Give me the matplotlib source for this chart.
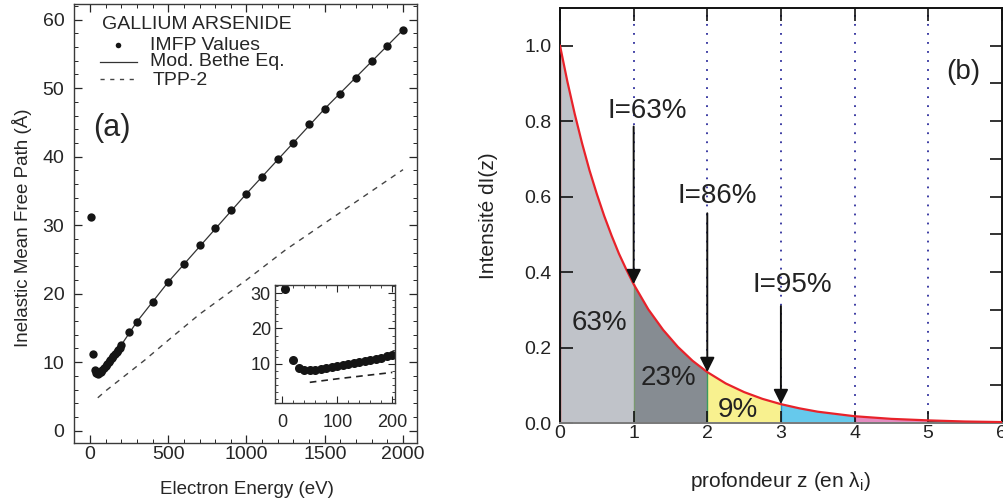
import matplotlib.pyplot as plt
from matplotlib.ticker import MultipleLocator

plt.rcParams['font.family'] = ['Liberation Sans', 'DejaVu Sans']
plt.rcParams['mathtext.fontset'] = 'custom'
plt.rcParams['mathtext.rm'] = 'Liberation Sans'
plt.rcParams['mathtext.it'] = 'Liberation Sans'

# ---- panel (a): GaAs inelastic mean free path ----
imfp_energy = [5, 20,
               30, 40, 50, 60, 70, 80, 90, 100, 110, 120, 130, 140, 150, 160, 170, 180, 190, 200,
               250, 300,
               400, 500, 600, 700, 800, 900, 1000, 1100, 1200, 1300, 1400, 1500, 1600, 1700,
               1800, 1900, 2000]
imfp_values = [31.2, 11.2,
               8.8, 8.4, 8.3, 8.4, 8.6, 8.9, 9.1, 9.4, 9.7, 10.0, 10.3, 10.6, 10.9, 11.2, 11.5,
               11.8, 12.1, 12.5,
               14.4, 15.9,
               18.8, 21.7, 24.3, 27.1, 29.6, 32.2, 34.6, 37.1, 39.6, 42.0, 44.7, 47.0, 49.2,
               51.5, 53.9, 56.2, 58.5]

bethe_energy = [30, 40, 50, 70, 100, 150, 200, 300, 500, 1000, 1500, 2000]
bethe_values = [8.8, 8.4, 8.3, 8.6, 9.4, 10.9, 12.5, 15.9, 21.7, 34.6, 47.0, 58.5]

tpp2_energy = [50, 100, 200, 350, 500, 700, 1000, 1250, 1500, 1750, 2000]
tpp2_values = [4.8, 5.8, 7.6, 10.3, 13.2, 17.0, 22.0, 26.4, 30.3, 34.2, 38.1]

# ---- panel (b): exponential attenuation ----
depth = [0, 0.1, 0.2, 0.3, 0.4, 0.5, 0.6, 0.7, 0.8, 0.9, 1, 1.2, 1.4, 1.6, 1.8, 2,
         2.25, 2.5, 2.75, 3, 3.25, 3.5, 3.75, 4, 4.5, 5, 5.5, 6]
intensity = [1.0, 0.905, 0.819, 0.741, 0.670, 0.607, 0.549, 0.497, 0.449, 0.407, 0.368,
             0.301, 0.247, 0.202, 0.165, 0.135, 0.105, 0.082, 0.064, 0.050, 0.039, 0.030,
             0.024, 0.018, 0.011, 0.007, 0.004, 0.0025]
band_edges = [0, 1, 2, 3, 4, 5, 6]
band_colors = ['#c0c3c9', '#868c92', '#f8f18f', '#66c9ec', '#e48cc0', '#45494a']
band_labels = ['63%', '23%', '9%']
cumul_depth = [1, 2, 3]
cumul_labels = ['I=63%', 'I=86%', 'I=95%']

ink = '#262626'
fig = plt.figure(figsize=(10.04, 5.03), dpi=100)

# ================= (a) =================
ax = fig.add_axes([0.0737, 0.1193, 0.3416, 0.873])
ax.plot(bethe_energy, bethe_values, color='#333333', lw=0.9)
ax.plot(tpp2_energy, tpp2_values, color='#444444', lw=1.0, ls=(0, (4, 4)))
ax.plot(imfp_energy, imfp_values, 'o', color='#151515', ms=6, mew=0)
ax.set_xlim(-102, 2089)
ax.set_ylim(-1.8, 62.3)
ax.xaxis.set_major_locator(MultipleLocator(500))
ax.xaxis.set_minor_locator(MultipleLocator(100))
ax.yaxis.set_major_locator(MultipleLocator(10))
ax.yaxis.set_minor_locator(MultipleLocator(2))
ax.tick_params(which='both', direction='in', top=True, right=True, colors=ink,
               labelsize=14, labelcolor=ink)
ax.tick_params(which='major', length=6, width=0.9)
ax.tick_params(which='minor', length=3, width=0.7)
ax.tick_params(axis='x', pad=2.5)
ax.tick_params(axis='y', pad=7)
for s in ax.spines.values():
    s.set_color('#3a3a3a')
    s.set_linewidth(1.0)
ax.set_xlabel('Electron Energy (eV)', fontsize=13.5, color=ink)
ax.set_ylabel('Inelastic Mean Free Path (Å)', fontsize=13.5, color=ink)
ax.xaxis.set_label_coords(0.504, -0.107)
ax.xaxis.label.set_va('center')
ax.yaxis.set_label_coords(-0.152, 0.49)
ax.yaxis.label.set_va('center')

# legend block
ax.text(0.082, 0.952, 'GALLIUM ARSENIDE', transform=ax.transAxes, fontsize=14,
        color=ink, va='center', ha='left')
ax.plot([0.128], [0.906], 'o', color='#151515', ms=4, mew=0, transform=ax.transAxes)
ax.plot([0.076, 0.184], [0.868, 0.868], color='#333333', lw=0.9, transform=ax.transAxes)
ax.plot([0.076, 0.184], [0.830, 0.830], color='#444444', lw=1.0, ls=(0, (3, 4)),
        transform=ax.transAxes)
ax.text(0.222, 0.906, 'IMFP Values', transform=ax.transAxes, fontsize=14, color=ink,
        va='center')
ax.text(0.222, 0.868, 'Mod. Bethe Eq.', transform=ax.transAxes, fontsize=14, color=ink,
        va='center')
ax.text(0.228, 0.826, 'TPP-2', transform=ax.transAxes, fontsize=14, color=ink, va='center')
ax.text(0.111, 0.717, '(a)', transform=ax.transAxes, fontsize=22, color=ink,
        va='center', ha='center')

# inset
axi = fig.add_axes([0.274, 0.199, 0.1195, 0.2346])
axi.plot(bethe_energy[:7], bethe_values[:7], color='#333333', lw=0.9)
axi.plot(tpp2_energy[:3], tpp2_values[:3], color='#222222', lw=1.2, ls=(0, (4, 3)))
axi.plot(imfp_energy[:20], imfp_values[:20], 'o', color='#151515', ms=6.5, mew=0)
axi.set_xlim(-13, 205)
axi.set_ylim(-1, 32.3)
axi.xaxis.set_major_locator(MultipleLocator(100))
axi.xaxis.set_minor_locator(MultipleLocator(20))
axi.yaxis.set_major_locator(MultipleLocator(10))
axi.yaxis.set_minor_locator(MultipleLocator(2))
axi.tick_params(which='both', direction='in', top=True, right=True, colors=ink,
                labelsize=13, labelcolor=ink)
axi.tick_params(which='major', length=5, width=0.8)
axi.tick_params(which='minor', length=2.5, width=0.6)
axi.tick_params(axis='x', pad=8)
axi.tick_params(axis='y', pad=3)
axi.set_yticks([10, 20, 30])
for s in axi.spines.values():
    s.set_color('#3a3a3a')
    s.set_linewidth(1.0)

# ================= (b) =================
bx = fig.add_axes([0.5578, 0.159, 0.440, 0.825])
for xv in band_edges[1:-1]:
    bx.axvline(xv, color='#2d2d9c', lw=1.3, ls=(0, (1, 4)), zorder=0.5)
for i, col in enumerate(band_colors):
    lo, hi = band_edges[i], band_edges[i + 1]
    xs = [d for d in depth if lo <= d <= hi]
    ys = [intensity[depth.index(d)] for d in xs]
    bx.fill_between(xs, 0, ys, color=col, lw=0, zorder=1)
edge_cols = ['#e02020', '#7a9a70', '#3a9a60', '#2a90d0', '#d050a0']
for xv, ec in zip(band_edges[:-1], edge_cols):
    bx.plot([xv, xv], [0, intensity[depth.index(xv)]], color=ec, lw=1.0, zorder=1.5)
bx.plot(depth, intensity, color='#e8222a', lw=1.6, zorder=3)

for i, lab in enumerate(band_labels):
    cx = [0.54, 1.47, 2.41][i]
    cy = [0.264, 0.12, 0.034][i]
    bx.text(cx, cy, lab, fontsize=20, color='#222222', ha='center', va='center', zorder=4)

text_x = [1.18, 2.14, 3.16]
text_y = [0.828, 0.603, 0.365]
arrow_start = [0.786, 0.556, 0.31]
for xv, lab, tx, ty, ay in zip(cumul_depth, cumul_labels, text_x, text_y, arrow_start):
    tip = intensity[depth.index(xv)]
    bx.annotate('', xy=(xv, tip), xytext=(xv, ay),
                arrowprops=dict(arrowstyle='-|>', color='#111111', lw=1.4,
                                mutation_scale=22, shrinkA=0, shrinkB=0), zorder=4)
    bx.text(tx, ty, lab, fontsize=20, color='#222222', ha='center', va='center', zorder=4)
bx.text(5.48, 0.93, '(b)', fontsize=20, color='#222222', ha='center', va='center')

bx.set_xlim(0, 6)
bx.set_ylim(0, 1.1)
bx.xaxis.set_major_locator(MultipleLocator(1))
bx.yaxis.set_minor_locator(MultipleLocator(0.1))
bx.set_yticks([0, 0.2, 0.4, 0.6, 0.8, 1.0])
bx.set_yticklabels(['0.0', '0.2', '0.4', '0.6', '0.8', '1.0'])
bx.tick_params(which='major', direction='in', top=True, right=True, length=9, width=1.2,
               labelsize=14, colors='#111111', labelcolor='#222222')
bx.tick_params(which='minor', direction='in', left=False, right=True, length=9, width=1.2,
               colors='#111111')
bx.tick_params(axis='x', pad=1.5)
bx.tick_params(axis='y', pad=6)
for s in bx.spines.values():
    s.set_linewidth(1.4)
    s.set_color('#111111')
bx.spines['bottom'].set_color('#7a7a7a')
bx.set_xlabel(r'profondeur z (en $\lambda_{\mathrm{i}}$)', fontsize=15, color='#222222')
bx.set_ylabel('Intensité dI(z)', fontsize=15, color='#222222')
bx.xaxis.set_label_coords(0.5, -0.142)
bx.xaxis.label.set_va('center')
bx.yaxis.set_label_coords(-0.163, 0.5)
bx.yaxis.label.set_va('center')

fig.savefig('out.png', dpi=100)
